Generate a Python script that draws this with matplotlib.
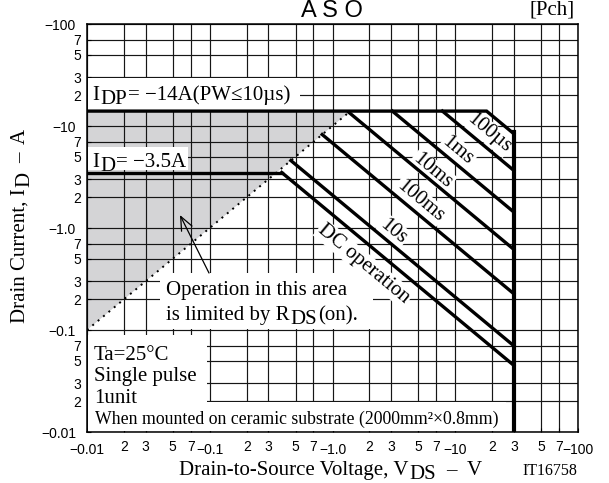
import numpy as np
import matplotlib
matplotlib.use("Agg")
import matplotlib.pyplot as plt
from matplotlib.transforms import IdentityTransform
from matplotlib.patches import Rectangle

# ---------------- data ----------------
IDP = 14.0        # pulsed drain current limit (A, magnitude)
ID_DC = 3.5       # DC drain current limit (A, magnitude)
RDS_ON = 0.1      # on-resistance limit line  I = V / RDS_ON
VDSS = 30.0       # drain-source voltage limit (V, magnitude)
V_MIN, V_MAX = 0.01, 100.0
I_MIN, I_MAX = 0.01, 100.0

# constant-power boundaries (W): 100us, 1ms, 10ms, 100ms, (1s), 10s, DC
pulse_power = [252.0, 110.0, 43.0, 18.5, 6.8, 2.1, 1.35]
pulse_is_dc = [False, False, False, False, False, False, True]

line_labels = ["100µs", "1ms", "10ms", "100ms", "10s", "DC operation"]
label_v = [18.7, 10.5, 6.53, 5.16, 3.14, 1.806]
label_i = [8.6, 5.69, 3.66, 1.84, 0.925, 0.444]

major_ticks = [0.01, 0.1, 1.0, 10.0, 100.0]
minor_mult = [2, 3, 5, 7]
x_major_labels = ["−0.01", "−0.1", "−1.0", "−10", "−100"]
y_major_labels = ["−0.01", "−0.1", "−1.0", "−10", "−100"]

SERIF = "Liberation Serif"
SANS = "Liberation Sans"

# ---------------- figure ----------------
W, H = 609, 483
fig = plt.figure(figsize=(W / 100, H / 100), dpi=100)
AX_L, AX_R, AX_T, AX_B = 87, 578, 24, 432
ax = fig.add_axes([AX_L / W, 1 - AX_B / H, (AX_R - AX_L) / W, (AX_B - AX_T) / H])
ax.set_xscale("log")
ax.set_yscale("log")
ax.set_xlim(V_MIN, V_MAX)
ax.set_ylim(I_MIN, I_MAX)

minor_vals = [m * d for d in major_ticks[:-1] for m in minor_mult]
minor_labels = [str(m) for d in major_ticks[:-1] for m in minor_mult]
ax.set_xticks(major_ticks)
ax.set_xticklabels(x_major_labels)
ax.set_xticks(minor_vals, minor=True)
ax.set_xticklabels(minor_labels, minor=True)
ax.set_yticks(major_ticks)
ax.set_yticklabels(y_major_labels)
ax.set_yticks(minor_vals, minor=True)
ax.set_yticklabels(minor_labels, minor=True)
for lab in ax.get_xticklabels(which="both") + ax.get_yticklabels(which="both"):
    lab.set_fontfamily(SANS)
ax.tick_params(which="both", direction="in", length=3, width=0.8, labelsize=10,
               top=False, right=False, colors="black")
ax.tick_params(axis="x", which="major", pad=8)
ax.tick_params(axis="x", which="minor", pad=5.5)
ax.tick_params(axis="y", which="major", pad=8)
ax.tick_params(axis="y", which="minor", pad=4.5)
for sp in ax.spines.values():
    sp.set_linewidth(1.1)

ax.grid(True, which="both", color="#161616", lw=0.85)
ax.set_axisbelow("line")

# shaded RDS(on)-limited region
ax.fill([V_MIN, IDP * RDS_ON, V_MIN], [V_MIN / RDS_ON, IDP, IDP],
        color="#d4d4d6", lw=0, zorder=1)


def px_box(x0, y0, x1, y1):
    ax.add_patch(Rectangle(((x0 - AX_L) / (AX_R - AX_L), (AX_B - y1) / (AX_B - AX_T)),
                           (x1 - x0) / (AX_R - AX_L), (y1 - y0) / (AX_B - AX_T),
                           transform=ax.transAxes, facecolor="white", edgecolor="none",
                           zorder=2, clip_on=False))


px_box(88, 78, 300, 110)     # IDP label
px_box(88, 147, 188, 170)    # ID label
px_box(160, 273, 373, 329)   # RDS note
px_box(88, 335, 207, 431)    # conditions
px_box(88, 402, 506, 431)    # mounting

LW = 2.4
# envelope (100 us) and VDSS limit
P0 = pulse_power[0]
ax.plot([V_MIN, P0 / IDP, VDSS], [IDP, IDP, P0 / VDSS], color="black", lw=LW,
        solid_joinstyle="miter", zorder=3)
ax.plot([VDSS, VDSS], [P0 / VDSS * 1.03, I_MIN], color="black", lw=3.0, zorder=3)

for P, dc in zip(pulse_power[1:], pulse_is_dc[1:]):
    imax = ID_DC if dc else IDP
    if np.sqrt(P / RDS_ON) > imax:
        vs = P / imax
    else:
        vs = np.sqrt(P * RDS_ON)
    ax.plot([vs, VDSS], [P / vs, P / VDSS], color="black", lw=LW, zorder=3)
    if dc:
        ax.plot([V_MIN, vs], [ID_DC, ID_DC], color="black", lw=LW, zorder=3)

# RDS(on) line
ax.plot([V_MIN, IDP * RDS_ON], [V_MIN / RDS_ON, IDP], color="black", lw=1.4,
        ls=(0, (1, 2.6)), zorder=3)

# label angle for slope -1 lines
p1 = ax.transData.transform((1.0, 1.0))
p2 = ax.transData.transform((10.0, 0.1))
ang = np.degrees(np.arctan2(p2[1] - p1[1], p2[0] - p1[0]))
for s, v, i in zip(line_labels, label_v, label_i):
    ax.text(v, i, s, rotation=ang, rotation_mode="anchor", ha="center", va="center",
            fontsize=15, family=SERIF, zorder=2.6,
            bbox=dict(boxstyle="square,pad=0.06", fc="white", ec="none"))

# arrow
ax.annotate("", xy=(0.0572, 1.34), xytext=(0.0986, 0.362),
            arrowprops=dict(arrowstyle="->,head_length=0.7,head_width=0.3",
                            lw=0.9, color="black", shrinkA=0, shrinkB=0,
                            mutation_scale=14), zorder=4)

renderer = fig.canvas.get_renderer()


def seg_text(x, y, parts, size, rot=0, family=SERIF):
    cx, cy = x, H - y
    for s, dy, gap in parts:
        if rot == 0:
            cx += gap
            t = fig.text(cx, cy - dy, s, transform=IdentityTransform(), fontsize=size,
                         family=family, ha="left", va="baseline", zorder=6)
            cx += t.get_window_extent(renderer).width
        else:
            cy += gap
            t = fig.text(cx + dy, cy, s, transform=IdentityTransform(), fontsize=size,
                         family=family, ha="left", va="baseline", rotation=90,
                         rotation_mode="anchor", zorder=6)
            cy += t.get_window_extent(renderer).height


FS = 15
seg_text(92, 100, [("I", 0, 0), ("DP", 4, 1), ("= −14A(PW≤10µs)", 0, 1)], FS)
seg_text(92, 167, [("I", 0, 0), ("D", 4, 1), ("= −3.5A", 0, 1)], FS)
seg_text(166, 295, [("Operation in this area", 0, 0)], FS)
seg_text(166, 320, [("is limited by R", 0, 0), ("DS", 4, 1), ("(on).", 0, 1)], FS)
seg_text(94, 360, [("Ta=25°C", 0, 0)], FS)
seg_text(94, 381.5, [("Single pulse", 0, 0)], FS)
seg_text(94, 403, [("1unit", 0, 0)], FS)
seg_text(95, 424, [("When mounted on ceramic substrate (2000mm²×0.8mm)", 0, 0)], 12.8)
seg_text(179, 475, [("Drain-to-Source Voltage, V", 0, 0), ("DS", 4, 1), ("–", 0, 10), ("V", 0, 10)], FS)
seg_text(522, 475, [("IT16758", 0, 0)], 11.5)
seg_text(25, 323, [("Drain Current, I", 0, 0), ("D", 4, 1), ("–", 0, 9), ("A", 0, 9)], FS, rot=90)

fig.text(331.5, H - 17, "A S O", transform=IdentityTransform(), fontsize=17,
         family=SANS, ha="center", va="baseline")
fig.text(575, H - 14, "[Pch]", transform=IdentityTransform(), fontsize=FS,
         family=SERIF, ha="right", va="baseline")

fig.savefig("out.png", dpi=100)
